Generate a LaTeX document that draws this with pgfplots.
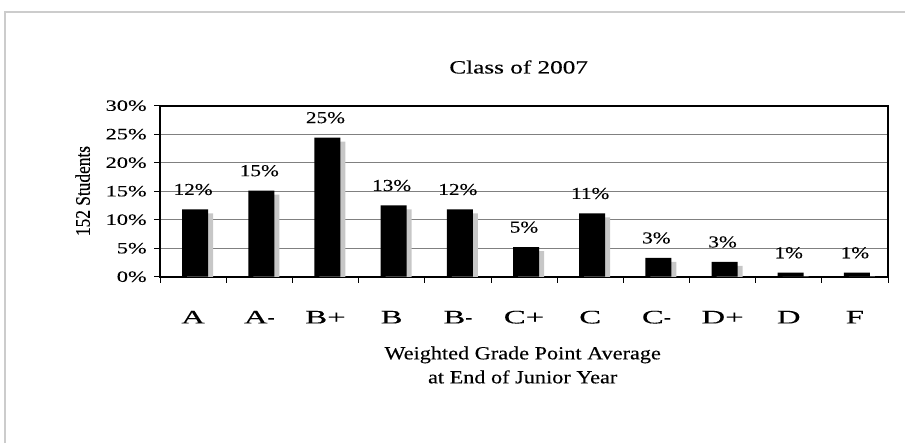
\documentclass[border=0pt]{standalone}
\usepackage{pgfplots}
\pgfplotsset{compat=1.18}
\usepackage{pgfplotstable}
\usepackage{fontspec}
\setmainfont{Liberation Serif}[FakeBold=0.25]
\newfontfamily\fTitle{Liberation Serif}[FakeStretch=1.35, FakeBold=0.25]
\newfontfamily\fYT{Liberation Serif}[FakeStretch=1.42, FakeBold=0.25]
\newfontfamily\fBar{Liberation Serif}[FakeStretch=1.28, FakeBold=0.25]
\newfontfamily\fXT{Liberation Serif}[FakeStretch=1.72, FakeBold=0.25]
\newfontfamily\fXH{Liberation Serif}[FakeStretch=1.1, FakeBold=0.25]
\newfontfamily\fXL{Liberation Serif}[FakeStretch=1.2, FakeBold=0.25]
\newcommand{\hy}{{\fXH -}}

\pgfplotstableread{
x y lab
0 11.8 12
1 15.1 15
2 24.4 25
3 12.5 13
4 11.8 12
5 5.2 5
6 11.1 11
7 3.3 3
8 2.6 3
9 0.7 1
10 0.7 1
}\gradedata

\begin{document}
\begin{tikzpicture}
\path[use as bounding box] (0,0) rectangle (678.75pt,332.25pt);
\draw[black!20, line width=0.8pt] (3.75pt,0) -- (3.75pt,323.25pt) -- (678.75pt,323.25pt);
\begin{axis}[
  at={(120pt,124.7pt)}, anchor=south west,
  width=546pt, height=128.3pt, scale only axis,
  xmin=-0.5, xmax=10.5, ymin=0, ymax=30,
  ytick={0,5,10,15,20,25,30},
  yticklabels={0\%,5\%,10\%,15\%,20\%,25\%,30\%},
  xtick={-0.5,0.5,1.5,2.5,3.5,4.5,5.5,6.5,7.5,8.5,9.5,10.5},
  x tick label as interval,
  xticklabels={A,A\hy,B+,B,B\hy,C+,C,C\hy,D+,D,F},
  ymajorgrids, grid style={draw=black!50, line width=0.6pt},
  axis line style={line width=1.4pt, black},
  tick align=outside, xtick pos=bottom, ytick pos=left,
  major tick length=4.5pt, tick style={line width=0.6pt, black},
  yticklabel style={font=\fYT\fontsize{11.8}{12}\selectfont, xshift=-2pt},
  xticklabel style={font=\fXT\fontsize{14.3}{15}\selectfont, anchor=base, yshift=-30.5pt},
  clip=true,
]
\addplot[ybar, bar width=19.5pt, bar shift=5.25pt, fill=black!22, draw=none, yshift=-3pt]
  table[x=x, y=y] {\gradedata};
\addplot[ybar, bar width=19.5pt, bar shift=1.5pt, fill=black, draw=none,
  nodes near coords={\pgfplotspointmeta\%}, point meta=explicit symbolic,
  nodes near coords style={font=\fBar\fontsize{12.5}{13}\selectfont, anchor=south, inner sep=0pt, yshift=10.5pt}]
  table[x=x, y=y, meta=lab] {\gradedata};
\end{axis}
\node[font=\fTitle\fontsize{14}{15}\selectfont] at (389pt,282pt) {Class of 2007};
\node[font=\fXL\fontsize{13.9}{18}\selectfont, align=center] at (392pt,58.5pt) {Weighted Grade Point Average\\at End of Junior Year};
\node[rotate=90, font=\fontsize{13}{14}\selectfont] at (62pt,189pt) {\scalebox{1}[1.2]{152 Students}};
\end{tikzpicture}
\end{document}
